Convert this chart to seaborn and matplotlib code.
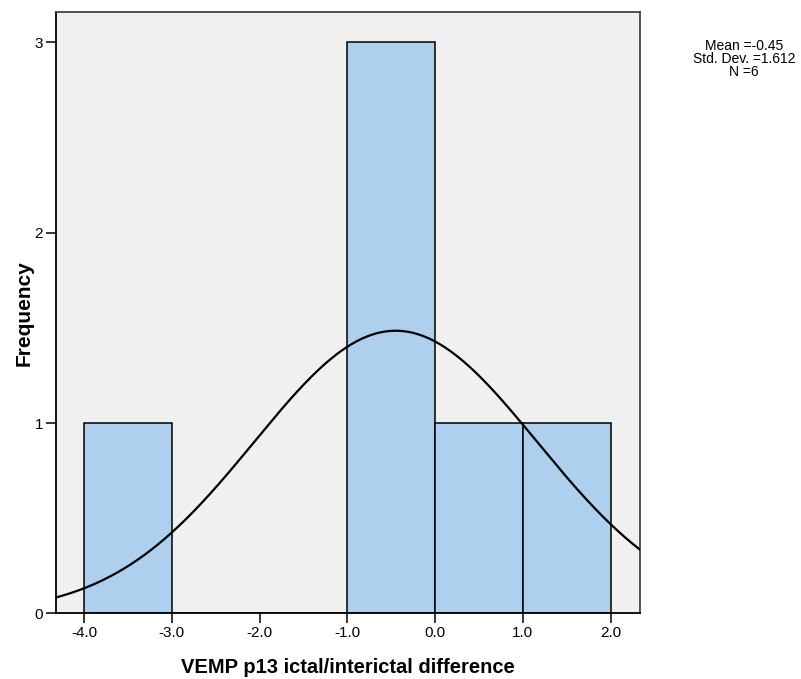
import numpy as np
import pandas as pd
import matplotlib
matplotlib.use("Agg")
import matplotlib.pyplot as plt
import seaborn as sns

# Histogram of ictal/interictal differences (bin counts per unit-wide bin)
bin_edges = [-4.0, -3.0, -2.0, -1.0, 0.0, 1.0, 2.0]
bin_counts = [1, 0, 0, 3, 1, 1]

# Summary statistics reported alongside the histogram
stat_mean = -0.45
stat_sd = 1.612
stat_n = 6

x_ticks = [-4.0, -3.0, -2.0, -1.0, 0.0, 1.0, 2.0]
x_tick_labels = ["-4.0", "-3.0", "-2.0", "-1.0", "0.0", "1.0", "2.0"]
y_ticks = [0, 1, 2, 3]

sns.set_theme(style="white")
plt.rcParams["font.family"] = ["Liberation Sans", "DejaVu Sans"]
plt.rcParams["text.color"] = "black"
plt.rcParams["axes.labelcolor"] = "black"
plt.rcParams["xtick.color"] = "black"
plt.rcParams["ytick.color"] = "black"

fig = plt.figure(figsize=(8.01, 6.79), dpi=100)
ax = fig.add_axes([0.0693, 0.0968, 0.7297, 0.8855])
ax.set_facecolor("#F0F0F0")

centers = [(a + b) / 2 for a, b in zip(bin_edges[:-1], bin_edges[1:])]
hist_df = pd.DataFrame({"value": centers, "count": bin_counts})
sns.histplot(data=hist_df, x="value", weights="count", bins=bin_edges,
             color="#AECFEE", alpha=1.0, edgecolor="black", linewidth=1.1,
             ax=ax, zorder=2)

# Fitted normal curve scaled to frequency (bin width 1)
bin_width = bin_edges[1] - bin_edges[0]
xs = np.linspace(-4.4, 2.4, 400)
ys = stat_n * bin_width / (stat_sd * np.sqrt(2 * np.pi)) * np.exp(-0.5 * ((xs - stat_mean) / stat_sd) ** 2)
sns.lineplot(x=xs, y=ys, color="black", linewidth=1.6, ax=ax, zorder=3)

ax.set_xlim(-4.326, 2.334)
ax.set_ylim(0, 3.16)
ax.set_xticks(x_ticks)
ax.set_xticklabels(x_tick_labels)
ax.set_yticks(y_ticks)
ax.tick_params(axis="both", which="both", direction="out", length=7, width=1.1,
               colors="black", labelsize=11, pad=2, bottom=True, left=True)

for side in ["left", "bottom"]:
    ax.spines[side].set_color("black")
    ax.spines[side].set_linewidth(1.3)
for side in ["top", "right"]:
    ax.spines[side].set_color("#444444")
    ax.spines[side].set_linewidth(1.3)

ax.set_xlabel("VEMP p13 ictal/interictal difference", fontsize=14.5,
              fontweight="bold", labelpad=13, color="black")
ax.set_ylabel("Frequency", fontsize=15, fontweight="bold", labelpad=2,
              color="black")
ax.yaxis.set_label_coords(-0.038, 0.5)

fig.text(744 / 801, 1 - 59 / 679,
         f"Mean ={stat_mean}\nStd. Dev. ={stat_sd}\nN ={stat_n}",
         ha="center", va="center", fontsize=10, linespacing=0.95, color="black")

fig.savefig("out.png", dpi=100)
